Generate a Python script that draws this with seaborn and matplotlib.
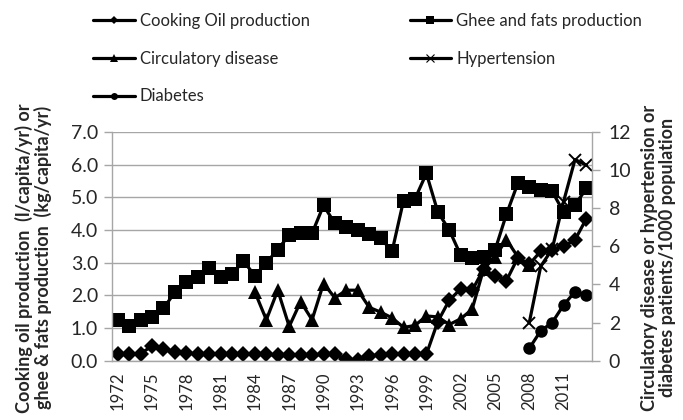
import matplotlib
matplotlib.use("Agg")
import matplotlib.pyplot as plt
from matplotlib.lines import Line2D
import seaborn as sns

years = list(range(1972, 2014))

cooking_oil = [0.20, 0.22, 0.22, 0.45, 0.35, 0.28, 0.25, 0.20, 0.20, 0.20,
               0.20, 0.20, 0.20, 0.20, 0.17, 0.17, 0.17, 0.17, 0.20, 0.20,
               0.05, 0.02, 0.15, 0.18, 0.20, 0.20, 0.20, 0.20, 1.20, 1.85,
               2.20, 2.15, 2.80, 2.60, 2.45, 3.15, 2.95, 3.35, 3.40, 3.50,
               3.70, 4.35]

ghee_fats = [1.25, 1.05, 1.25, 1.35, 1.60, 2.10, 2.40, 2.55, 2.85, 2.55,
             2.65, 3.05, 2.60, 3.00, 3.40, 3.85, 3.90, 3.90, 4.75, 4.20,
             4.10, 4.00, 3.88, 3.75, 3.35, 4.90, 4.95, 5.73, 4.55, 4.00,
             3.23, 3.13, 3.17, 3.38, 4.48, 5.43, 5.32, 5.22, 5.18, 4.55,
             4.77, 5.27]

circ_years = list(range(1984, 2009))
circulatory = [3.6, 2.15, 3.7, 1.8, 3.1, 2.15, 4.05, 3.3, 3.7, 3.7,
               2.8, 2.55, 2.25, 1.75, 1.85, 2.35, 2.3, 1.9, 2.2, 2.7,
               4.8, 5.45, 6.35, 5.45, 5.0]

late_years = list(range(2008, 2014))
hypertension = [2.0, 4.95, 5.85, 8.35, 10.55, 10.25]
diabetes = [0.65, 1.57, 2.0, 2.92, 3.62, 3.44]

tick_years = list(range(1972, 2012, 3))
left_ticks = [0.0, 1.0, 2.0, 3.0, 4.0, 5.0, 6.0, 7.0]
right_ticks = [0, 2, 4, 6, 8, 10, 12]

sns.set_style("white")
plt.rcParams['font.family'] = ['Lato', 'DejaVu Sans']

fig = plt.figure(figsize=(6.83, 4.2), dpi=100)
ax = fig.add_axes([0.164, 0.141, 0.703, 0.545])
ax2 = ax.twinx()

lw = 2.3
black = "black"
sns.lineplot(x=years, y=cooking_oil, ax=ax, color=black, lw=lw, marker="D",
             markersize=8.5, markeredgecolor=black, markeredgewidth=0)
sns.lineplot(x=years, y=ghee_fats, ax=ax, color=black, lw=lw, marker="s",
             markersize=9.5, markeredgecolor=black, markeredgewidth=0)
sns.lineplot(x=circ_years, y=circulatory, ax=ax2, color=black, lw=lw, marker="^",
             markersize=10, markeredgecolor=black, markeredgewidth=0)
sns.lineplot(x=late_years, y=hypertension, ax=ax2, color=black, lw=lw, marker="x",
             markersize=9, markeredgecolor=black, markeredgewidth=1.4)
sns.lineplot(x=late_years, y=diabetes, ax=ax2, color=black, lw=lw, marker="o",
             markersize=9, markeredgecolor=black, markeredgewidth=0)

ax.set_xlim(1971.5, 2013.5)
ax.set_ylim(0, 7)
ax2.set_ylim(0, 12)

grid_c = "#a6a6a6"
ax.set_yticks(left_ticks)
ax.set_yticklabels([f"{v:.1f}" for v in left_ticks], fontsize=14)
ax2.set_yticks(right_ticks)
ax2.set_yticklabels([str(v) for v in right_ticks], fontsize=14)
ax.yaxis.grid(True, color=grid_c, lw=1)
ax.set_axisbelow(True)

# x ticks: marks between categories, labels every 3 years
ax.set_xticks([y - 0.5 for y in years] + [2013.5])
ax.set_xticklabels([])
ax.tick_params(axis="x", which="major", length=6, color=grid_c, width=1, direction="out")
ax.set_xticks(tick_years, minor=True)
ax.set_xticklabels([str(y) for y in tick_years], minor=True, rotation=90, fontsize=12)
ax.tick_params(axis="x", which="minor", length=0, pad=8)
ax.tick_params(axis="y", length=6, color=grid_c, width=1, direction="out", pad=4)
ax2.tick_params(axis="y", length=6, color=grid_c, width=1, direction="out", pad=6)

for a in (ax, ax2):
    a.spines["top"].set_visible(False)
    for s in ("left", "right", "bottom"):
        a.spines[s].set_color(grid_c)
        a.spines[s].set_linewidth(1)
ax.spines["right"].set_visible(False)
ax2.spines["left"].set_visible(False)
ax2.spines["bottom"].set_visible(False)

ax.set_xlabel("")
ax.set_ylabel("Cooking oil production  (l/capita/yr) or\nghee & fats production  (kg/capita/yr)",
              fontsize=13, fontweight="bold", linespacing=1.05)
ax.yaxis.set_label_coords(-0.125, 0.45)
ax2.set_ylabel("Circulatory disease or hypertension or\ndiabetes patients/1000 population",
               fontsize=13, fontweight="bold", linespacing=1.05, rotation=90)
ax2.yaxis.set_label_coords(1.102, 0.45)

handles = [
    Line2D([], [], color=black, lw=lw, marker="D", markersize=4, markeredgewidth=0),
    Line2D([], [], color=black, lw=lw, marker="^", markersize=6, markeredgewidth=0),
    Line2D([], [], color=black, lw=lw, marker="o", markersize=5, markeredgewidth=0),
    Line2D([], [], color=black, lw=lw, marker="s", markersize=6, markeredgewidth=0),
    Line2D([], [], color=black, lw=lw, marker="x", markersize=6, markeredgewidth=0.8),
]
labels = ["Cooking Oil production", "Circulatory disease", "Diabetes",
          "Ghee and fats production", "Hypertension"]
fig.legend(handles, labels, loc="upper left", bbox_to_anchor=(93 / 683, 1 - 13 / 420),
           ncol=2, frameon=False, fontsize=12, handlelength=2.5, handletextpad=0.3,
           labelspacing=1.3, columnspacing=6.0, borderpad=0, borderaxespad=0)

fig.savefig("out.png", dpi=100)
